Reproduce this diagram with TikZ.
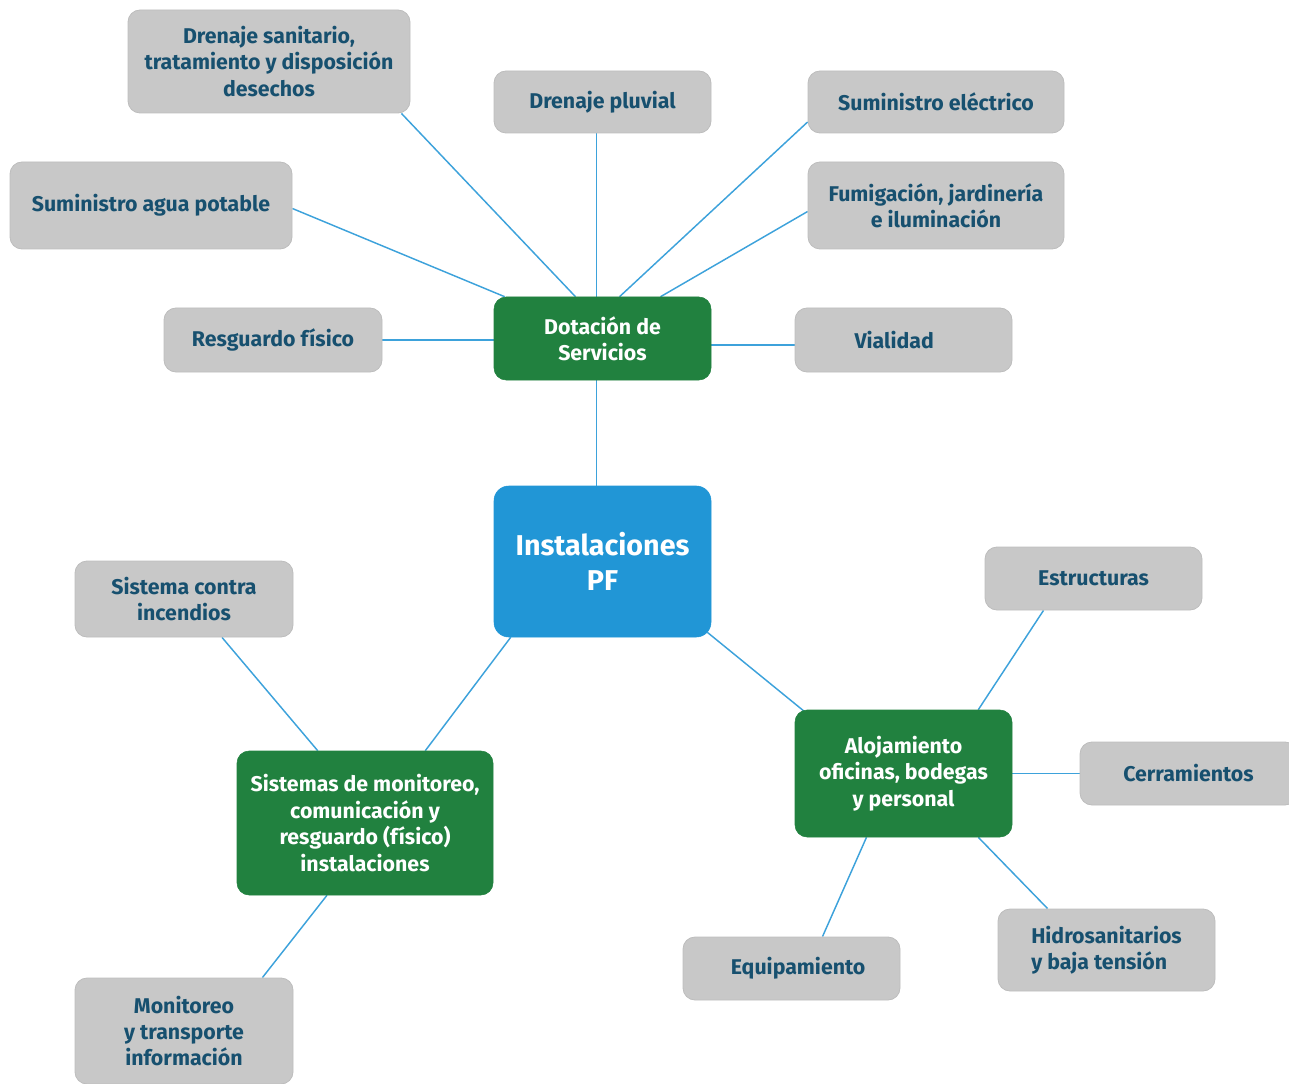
\documentclass[tikz,border=0pt]{standalone}
\usepackage{fontspec}
\setmainfont{Fira Sans}
\usetikzlibrary{calc,backgrounds}

\definecolor{boxgray}{HTML}{C8C8C8}
\definecolor{edgegray}{HTML}{BDBDBD}
\definecolor{navytext}{HTML}{17506F}
\definecolor{leafgreen}{HTML}{21813F}
\definecolor{coreblue}{HTML}{2196D6}
\definecolor{linkblue}{HTML}{3DA2DB}

\tikzset{
  leaf/.style={rectangle, rounded corners=9pt, fill=boxgray, draw=edgegray, line width=0.6pt,
    align=center, text=navytext, font=\bfseries\fontsize{16}{19.8}\selectfont, inner sep=2pt},
  hub/.style={rectangle, rounded corners=9pt, fill=leafgreen, draw=leafgreen,
    align=center, text=white, font=\bfseries\fontsize{16}{19.8}\selectfont, inner sep=2pt},
  core/.style={rectangle, rounded corners=11pt, fill=coreblue, draw=coreblue,
    align=center, text=white, font=\bfseries\fontsize{21.5}{26}\selectfont, inner sep=2pt},
  link/.style={draw=linkblue, line width=1.1pt},
}

\begin{document}
\begin{tikzpicture}[x=0.75pt, y=-0.75pt]
\useasboundingbox (0,0) rectangle (1289,1084);

% centre and hubs
\node[core, minimum width=162.75pt, minimum height=113.25pt] (inst) at (602.5,561.5) {Instalaciones\\PF};
\node[hub, minimum width=162.75pt, minimum height=62.25pt] (dot) at (602.5,338.5) {Dotación de\\Servicios};
\node[hub, minimum width=192pt, minimum height=108pt] (smon) at (365,823) {Sistemas de monitoreo,\\comunicación y\\resguardo (físico)\\instalaciones};
\node[hub, minimum width=162.75pt, minimum height=95.25pt] (aloj) at (903.5,773.5) {Alojamiento\\oficinas, bodegas\\y personal};

% services
\node[leaf, minimum width=211.5pt, minimum height=77.25pt] (dsan) at (269,61.5) {Drenaje sanitario,\\tratamiento y disposición\\desechos};
\node[leaf, minimum width=162.75pt, minimum height=46.5pt] (dpluv) at (602.5,102) {Drenaje pluvial};
\node[leaf, minimum width=192pt, minimum height=46.5pt] (selec) at (936,102) {Suministro eléctrico};
\node[leaf, minimum width=211.5pt, minimum height=65.25pt] (sagua) at (151,205.5) {Suministro agua potable};
\node[leaf, minimum width=192pt, minimum height=65.25pt] (fumi) at (936,205.5) {Fumigación, jardinería\\e iluminación};
\node[leaf, minimum width=163.5pt, minimum height=48pt] (resg) at (273,340) {Resguardo físico};
\node[leaf, minimum width=162.75pt, minimum height=48pt] (vial) at (903.5,340) {Vialidad\hspace*{14pt}};

% monitoring branch
\node[leaf, minimum width=163.5pt, minimum height=57pt] (scin) at (184,599) {Sistema contra\\incendios};
\node[leaf, minimum width=163.5pt, minimum height=79.5pt] (mont) at (184,1031) {Monitoreo\\y transporte\\información};

% lodging branch
\node[leaf, minimum width=162.75pt, minimum height=47.25pt] (estr) at (1093.5,578.5) {Estructuras};
\node[leaf, minimum width=162.75pt, minimum height=47.25pt] (cerr) at (1188.5,773.5) {Cerramientos};
\node[leaf, minimum width=162.75pt, minimum height=47.25pt] (equi) at (791.5,968.5) {\hspace*{10pt}Equipamiento};
\node[leaf, align=left, minimum width=162.75pt, minimum height=61.5pt] (hidr) at (1106.5,950) {Hidrosanitarios\\y baja tensión};

\begin{scope}[on background layer]
  % Dotación de Servicios
  \draw[link] ($(dsan.south east)+(-9,0)$) -- ($(dot.north)+(-27,0)$);
  \draw[link] ($(dpluv.south)+(-6,0)$) -- ($(dot.north)+(-6,0)$);
  \draw[link] ($(selec.west)+(0,20)$) -- ($(dot.north)+(17,0)$);
  \draw[link] ($(sagua.east)+(0,3)$) -- ($(dot.north west)+(11,0)$);
  \draw[link] ($(fumi.west)+(0,6)$) -- ($(dot.north)+(58,0)$);
  \draw[link] (resg.east) -- (resg.east -| dot.west);
  \draw[link] ($(vial.west)+(0,5)$) -- ($(dot.east)+(0,6.5)$);
  \draw[link] ($(dot.south)+(-6,0)$) -- ($(inst.north)+(-6,0)$);
  % hubs from the centre
  \draw[link] ($(inst.south west)+(17,0)$) -- ($(smon.north east)+(-68,0)$);
  \draw[link] ($(inst.south east)+(-4,-5)$) -- ($(aloj.north west)+(10,2)$);
  % monitoring branch
  \draw[link] ($(scin.south)+(38,0)$) -- ($(smon.north west)+(81,0)$);
  \draw[link] ($(smon.south)+(-38,0)$) -- ($(mont.north east)+(-31,0)$);
  % lodging branch
  \draw[link] ($(aloj.north east)+(-34,0)$) -- ($(estr.south)+(-50,0)$);
  \draw[link] (aloj.east) -- (cerr.west);
  \draw[link] ($(aloj.south)+(-37,0)$) -- ($(equi.north)+(31,0)$);
  \draw[link] ($(aloj.south east)+(-34,0)$) -- ($(hidr.north west)+(50,0)$);
\end{scope}
\end{tikzpicture}
\end{document}
